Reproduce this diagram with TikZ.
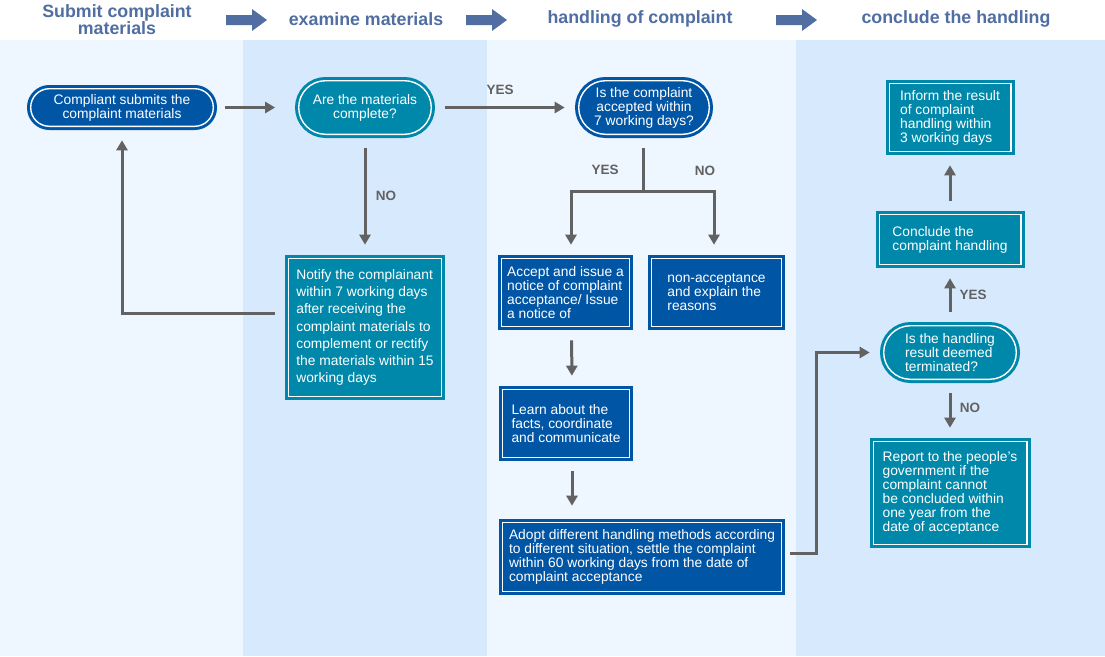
\documentclass[tikz,border=0pt]{standalone}
\usepackage{fontspec}
\setmainfont{Liberation Sans}
\usepackage{tikz}
\usetikzlibrary{arrows.meta,calc}
\definecolor{bandlight}{RGB}{238,246,255}
\definecolor{banddark}{RGB}{215,234,253}
\definecolor{navybox}{RGB}{0,85,165}
\definecolor{tealbox}{RGB}{0,136,170}
\definecolor{headblue}{RGB}{80,110,162}
\definecolor{arrowgray}{RGB}{98,98,98}

\begin{document}
\begin{tikzpicture}[x=1pt,y=-1pt,
    box/.style={rectangle,draw=#1,fill=#1,double=white,double distance=1.4pt,line width=3pt,
      outer sep=0pt,inner sep=0pt,text=white,align=left,font=\fontsize{13.8}{14}\selectfont},
    pill/.style={box=#1,rounded corners=26.8pt,align=center},
    flow/.style={draw=arrowgray,line width=3pt,-{Triangle[length=10pt,width=11pt]},
      shorten <=14pt,shorten >=14pt},
    lbl/.style={text=arrowgray,font=\fontsize{13.5}{14}\selectfont\bfseries},
    head/.style={text=headblue,font=\fontsize{17.8}{15}\selectfont\bfseries}]
        \useasboundingbox (0,0) rectangle (1105,656);
        \fill[white] (0,0) rectangle (1105,656);
        \foreach \xa/\xb/\c in {0/243/bandlight,243/487/banddark,487/796/bandlight,796/1105/banddark}
          \fill[\c] (\xa,40) rectangle (\xb,656);

        \node[head,align=center] (hsubmit) at (117,19.5) {Submit complaint\\materials};
        \node[head] (hexamine) at (366,19) {examine materials};
        \node[head] (hhandling) at (640,19) {handling of complaint};
        \node[head] (hconclude) at (956,19) {conclude the handling};
        \foreach \x in {226,466,776}
          \fill[headblue] (\x,15) -- ++(26,0) -- ++(0,-6) -- ++(15,11) -- ++(-15,11) -- ++(0,-6) -- ++(-26,0) -- cycle;

        \node[pill=navybox,minimum width=182.6pt,minimum height=37.6pt,rounded corners=18.6pt] (submit) at (122,107.5) {Compliant submits the\\complaint materials};
        \node[pill=tealbox,minimum width=132.6pt,minimum height=53.6pt] (complete) at (365,107.5) {Are the materials\\complete?};
        \node[pill=navybox,minimum width=130.6pt,minimum height=53.6pt] (accepted) at (644,107.5) {Is the complaint\\accepted within\\7 working days?};
        \node[box=tealbox,minimum width=152.6pt,minimum height=137.6pt,font=\fontsize{13.8}{17.3}\selectfont] (notify) at (365,327.5)
          {Notify the complainant\\within 7 working days\\after receiving the\\complaint materials to\\complement or rectify\\the materials within 15\\working days};
        \node[box=navybox,minimum width=127.6pt,minimum height=67.6pt] (accept) at (565.5,292.5) {Accept and issue a\\notice of complaint\\acceptance/ Issue\\a notice of};
        \node[box=navybox,minimum width=129.6pt,minimum height=67.6pt] (reject) at (716.5,292.5) {non-acceptance\\and explain the\\reasons};
        \node[box=navybox,minimum width=126.6pt,minimum height=67.6pt] (learn) at (566,423.5) {Learn about the\\facts, coordinate\\and communicate};
        \node[box=navybox,minimum width=278.6pt,minimum height=68.6pt] (adopt) at (642,557)
          {Adopt different handling methods according\\to different situation, settle the complaint\\within 60 working days from the date of\\complaint acceptance};
        \node[box=tealbox,minimum width=121.6pt,minimum height=67.6pt] (inform) at (950,117.5) {Inform the result\\of complaint\\handling within\\3 working days};
        \node[box=tealbox,minimum width=141.6pt,minimum height=49.6pt] (conclude) at (950,239.5) {Conclude the\\complaint handling};
        \node[pill=tealbox,minimum width=132.6pt,minimum height=53.6pt,align=left] (terminated) at (950,352.5) {Is the handling\\result deemed\\terminated?};
        \node[box=tealbox,minimum width=153.6pt,minimum height=102.6pt] (report) at (950,493)
          {Report to the people's\\government if the\\complaint cannot\\be concluded within\\one year from the\\date of acceptance};

        \coordinate (split) at (643,191);
        \draw[flow,shorten <=11.6pt,shorten >=23.6pt] (submit) -- (complete);
        \draw[flow] (complete) -- (accepted);
        \draw[flow] (complete) -- (notify);
        \draw[flow] ([yshift=14pt]notify.west) -| (submit);
        \draw[flow,-,shorten >=0pt] (split |- accepted.south) -- (split);
        \draw[flow,shorten <=0pt] (split) -| ([xshift=5.5pt]accept.north);
        \draw[flow,shorten <=0pt] (split) -| ([xshift=-2.5pt]reject.north);
        \draw[flow] ([xshift=6pt]accept.south) -- ([xshift=6pt]learn.north);
        \draw[flow,shorten >=17pt] ([xshift=6pt]learn.south) -- ([xshift=6pt]learn.south |- adopt.north);
        \draw[flow,shorten <=8.6pt] ([yshift=4pt]adopt.east) -- ++(35,0) |- (terminated);
        \draw[flow] (terminated) -- (conclude);
        \draw[flow] (terminated) -- (report);
        \draw[flow] (conclude) -- (inform);

        \node[lbl] (yestop) at (500,90) {YES};
        \node[lbl] (nonotify) at (386,196) {NO};
        \node[lbl] (yesaccept) at (605,170) {YES};
        \node[lbl] (noaccept) at (705,171) {NO};
        \node[lbl] (yesconclude) at (973,295) {YES};
        \node[lbl] (noreport) at (970,408) {NO};
      \end{tikzpicture}
\end{document}
